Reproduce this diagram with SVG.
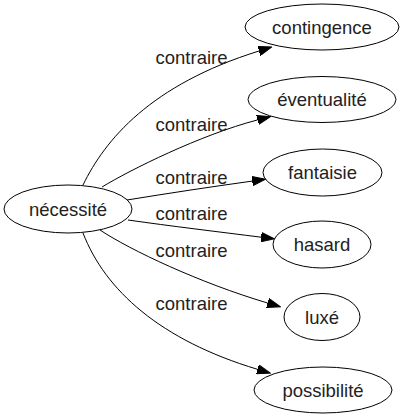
<svg xmlns="http://www.w3.org/2000/svg" width="405" height="419" viewBox="0 0 405 419">
<style>
.node ellipse{fill:none;stroke:#000;stroke-width:1}
text{font-family:"Liberation Sans",Arial,sans-serif;font-size:18.5px;fill:#222;text-anchor:middle}
.edge path{fill:none;stroke:#000;stroke-width:1}
</style>
<defs>
<marker id="arr" markerUnits="userSpaceOnUse" markerWidth="14" markerHeight="10" viewBox="0 -5 14 10" refX="0" refY="0" orient="auto">
<path d="M0,-4.67 L13.33,0 L0,4.67 z" fill="#000" stroke="#000" stroke-width="1"/>
</marker>
</defs>
<rect width="405" height="419" fill="#fff"/>
<g id="connectors" class="edge">
<path d="M83,185 C105,140 150,85 259,51" marker-end="url(#arr)"/>
<path d="M102,187 C130,170 200,135 257.6,119.9" marker-end="url(#arr)"/>
<path d="M127,200 C170,193 210,187 252.2,181.1" marker-end="url(#arr)"/>
<path d="M128,220 C170,226 220,232 261.1,237.2" marker-end="url(#arr)"/>
<path d="M100,230 C130,250 200,283 267.6,303" marker-end="url(#arr)"/>
<path d="M83,233 C105,290 160,340 257.5,369.3" marker-end="url(#arr)"/>
<text x="191.5" y="64">contraire</text>
<text x="191.5" y="131">contraire</text>
<text x="191.5" y="184">contraire</text>
<text x="191.5" y="220">contraire</text>
<text x="191.5" y="257">contraire</text>
<text x="191.5" y="310">contraire</text>
</g>
<g id="necessite" class="node"><ellipse cx="68" cy="209" rx="64" ry="24"/><text x="68" y="215.5">nécessité</text></g>
<g id="contingence" class="node"><ellipse cx="322" cy="27" rx="77" ry="23"/><text x="322" y="33.5">contingence</text></g>
<g id="eventualite" class="node"><ellipse cx="322" cy="99.5" rx="74" ry="23"/><text x="322" y="106">éventualité</text></g>
<g id="fantaisie" class="node"><ellipse cx="322.5" cy="172.5" rx="59.5" ry="23.5"/><text x="322.5" y="179">fantaisie</text></g>
<g id="hasard" class="node"><ellipse cx="322" cy="244.5" rx="49" ry="23.5"/><text x="322" y="251">hasard</text></g>
<g id="luxe" class="node"><ellipse cx="322" cy="317" rx="38" ry="23.5"/><text x="322" y="323.5">luxé</text></g>
<g id="possibilite" class="node"><ellipse cx="323" cy="390" rx="69" ry="23"/><text x="323" y="396.5">possibilité</text></g>
</svg>
